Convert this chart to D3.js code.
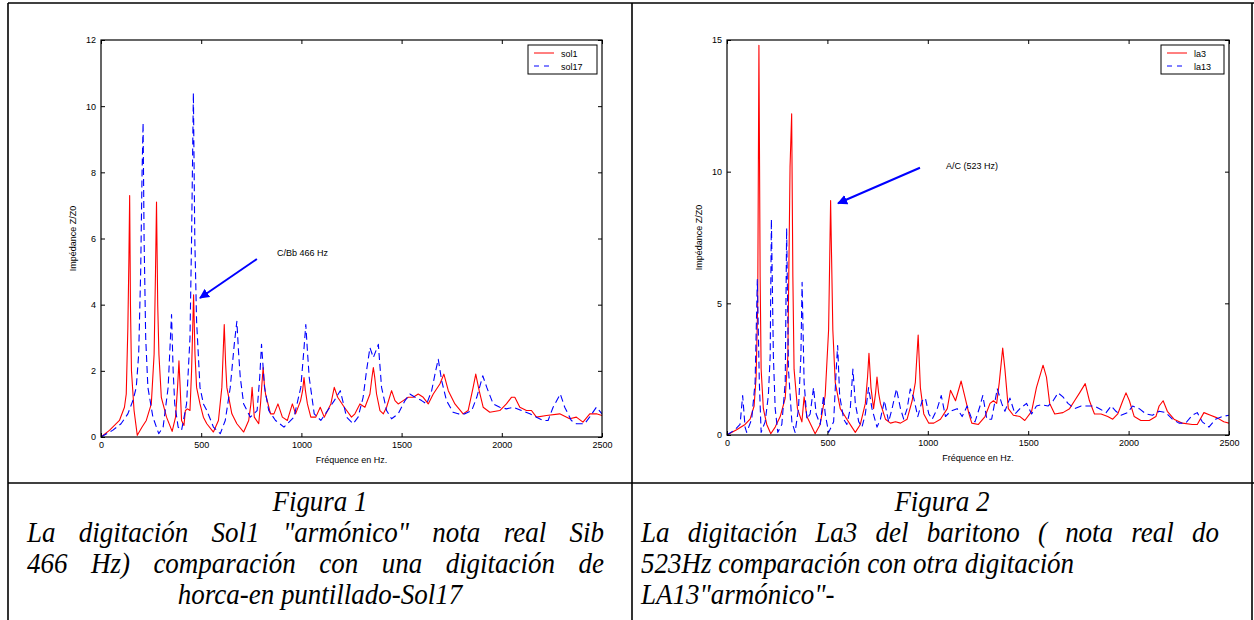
<!DOCTYPE html>
<html>
<head>
<meta charset="utf-8">
<script src="https://cdn.jsdelivr.net/npm/d3@7"></script>
<style>
  html, body { margin: 0; padding: 0; background: #fff; }
  svg { display: block; }
  .tick text { font-family: "Liberation Sans", Arial, sans-serif; font-size: 9px; fill: #000; }
  .lbl { font-family: "Liberation Sans", Arial, sans-serif; font-size: 9px; fill: #000; }
  .cap { font-family: "Liberation Serif", "Times New Roman", serif; font-style: italic; font-size: 30px; fill: #000; }
</style>
</head>
<body>
<div id="chart"></div>
<script>
// values: [frequency Hz, Z/Z0]
const sol1 = [[0,0],[42,0.2],[92,0.5],[117,0.9],[126,1.3],[134,3.3],[139,5.3],[143,7.3],[147,4],[152,2],[165,0.8],[181,0.05],[205,0.3],[226,0.5],[251,1.0],[265,2.5],[272,5],[277,7.1],[283,4],[289,2.5],[301,1.2],[327,0.6],[355,0.17],[372,0.6],[382,1.5],[389,2.3],[395,1.5],[402,0.5],[414,0.35],[421,0.8],[432,0.85],[444,0.8],[452,2],[462,4.3],[469,2.5],[477,1.5],[494,1.0],[511,0.6],[528,0.4],[561,0.15],[586,0.5],[603,1.5],[615,3.4],[622,2.2],[628,1.5],[653,0.7],[678,0.4],[712,0.15],[737,0.5],[748,1.0],[754,1.5],[760,1.0],[765,0.6],[787,0.4],[796,1.0],[803,1.6],[809,2.1],[815,1.6],[821,1.3],[846,0.7],[863,0.7],[883,1.0],[905,0.6],[930,0.5],[955,1.0],[971,0.7],[996,1.1],[1006,1.4],[1013,1.8],[1020,1.4],[1030,1.0],[1047,0.6],[1072,0.6],[1094,0.9],[1114,0.6],[1147,1.0],[1164,1.5],[1181,1.2],[1214,0.9],[1250,0.6],[1267,0.7],[1292,1.0],[1317,0.9],[1342,1.3],[1352,1.8],[1359,2.1],[1366,1.8],[1375,1.3],[1392,0.8],[1409,0.7],[1425,0.9],[1450,1.4],[1467,1.1],[1483,1.0],[1508,1.1],[1533,1.2],[1558,1.2],[1583,1.3],[1608,1.2],[1633,1.0],[1658,1.3],[1691,1.6],[1711,1.9],[1733,1.4],[1766,1.0],[1807,0.7],[1832,0.8],[1857,1.5],[1870,1.9],[1887,1.4],[1907,0.9],[1940,0.75],[1990,0.8],[2023,1.0],[2048,1.2],[2065,1.2],[2090,0.9],[2123,0.8],[2148,0.8],[2173,0.6],[2223,0.65],[2289,0.7],[2339,0.55],[2372,0.6],[2405,0.45],[2439,0.7],[2472,0.7],[2500,0.65]];

const sol17 = [[0,0],[58,0.2],[100,0.4],[134,0.7],[159,1.1],[176,1.5],[188,2.5],[198,5],[205,8],[210,9.5],[215,6],[223,3],[234,1.5],[259,0.6],[288,0.1],[310,0.3],[335,1.5],[345,2.8],[352,3.7],[360,2],[368,1.0],[385,0.3],[402,0.2],[427,1.0],[444,3],[452,6],[461,10.4],[468,6],[477,3.5],[494,1.5],[511,1.0],[528,0.8],[561,0.3],[595,0.1],[620,0.5],[645,1.5],[665,2.8],[678,3.5],[686,2.6],[695,1.8],[712,1.0],[745,0.6],[779,0.8],[792,1.8],[801,2.8],[808,2.2],[816,1.5],[837,0.8],[871,0.5],[913,0.3],[963,0.6],[997,1.5],[1012,2.6],[1022,3.4],[1030,2.6],[1039,1.8],[1064,0.7],[1097,0.5],[1131,0.8],[1164,1.1],[1194,1.4],[1214,0.9],[1225,0.6],[1258,0.4],[1283,0.6],[1308,1.2],[1325,2.0],[1342,2.7],[1359,2.4],[1384,2.8],[1400,1.5],[1425,0.8],[1450,0.55],[1483,0.7],[1517,1.1],[1541,1.3],[1567,1.2],[1600,1.1],[1625,1.0],[1650,1.4],[1670,2.0],[1683,2.35],[1700,1.7],[1724,1.1],[1757,0.75],[1782,0.7],[1816,0.7],[1850,0.8],[1875,1.2],[1905,1.85],[1925,1.5],[1957,1.0],[1990,0.9],[2023,0.85],[2057,0.9],[2098,0.8],[2140,0.7],[2173,0.6],[2206,0.5],[2231,0.5],[2256,0.9],[2292,1.3],[2314,0.9],[2347,0.5],[2372,0.4],[2413,0.4],[2438,0.6],[2472,0.9],[2500,0.7]];

const la3 = [[0,0],[48,0.2],[90,0.4],[115,0.6],[135,1.1],[145,2.2],[153,5],[159,14.8],[165,6],[170,2.5],[181,1.0],[198,0.4],[218,0.05],[240,0.3],[265,0.7],[290,1.4],[303,3],[314,10.2],[322,12.2],[328,6],[334,2.5],[351,1.0],[373,0.5],[384,1.45],[398,0.7],[423,0.3],[439,0.05],[464,0.4],[489,1.5],[506,4],[516,8.9],[527,4],[539,2],[564,1.0],[597,0.6],[622,0.3],[639,0.1],[664,0.4],[689,1.2],[700,2.2],[707,3.1],[717,1.8],[730,1.0],[740,1.6],[747,2.2],[755,1.6],[764,1.2],[789,0.6],[814,0.45],[839,0.5],[864,0.45],[897,0.6],[922,1.3],[938,2],[952,3.8],[963,1.8],[980,0.8],[1005,0.45],[1030,0.45],[1063,0.6],[1097,1.0],[1113,1.7],[1138,1.3],[1166,2.05],[1180,1.6],[1205,0.8],[1219,0.45],[1252,0.4],[1285,0.7],[1310,1.2],[1327,1.3],[1343,1.2],[1356,2],[1373,3.3],[1384,2.5],[1401,1.0],[1426,0.75],[1459,0.7],[1483,0.55],[1517,0.9],[1541,1.8],[1574,2.65],[1591,2.2],[1607,1.2],[1632,0.8],[1673,0.85],[1706,1.0],[1731,1.3],[1756,1.6],[1784,1.95],[1805,1.3],[1830,0.8],[1863,0.8],[1896,0.7],[1921,0.6],[1946,0.8],[1971,1.3],[1987,1.6],[2004,1.3],[2028,0.7],[2061,0.55],[2103,0.55],[2136,0.7],[2152,1.1],[2172,1.3],[2193,0.9],[2226,0.6],[2268,0.45],[2317,0.4],[2342,0.4],[2375,0.85],[2408,0.75],[2441,0.65],[2474,0.5],[2500,0.45]];

const la13 = [[0,0],[40,0.2],[65,0.4],[78,1.5],[90,0.3],[98,0.1],[123,0.6],[140,2],[151,5.9],[161,2],[170,0.1],[190,0.5],[206,1.5],[215,3],[221,8.2],[231,3],[240,1],[253,0.1],[273,0.4],[290,2],[297,7.85],[306,2.5],[323,0.5],[339,0.1],[356,1.0],[368,3],[374,5.8],[384,2],[398,0.6],[414,0.8],[431,1.8],[444,0.8],[464,0.4],[481,1.5],[489,0.8],[506,0.1],[531,0.5],[544,2.5],[551,3.4],[561,1.5],[581,0.6],[597,0.4],[614,1.0],[627,2.5],[639,1.2],[656,0.5],[672,0.3],[689,0.8],[705,1.8],[722,1.0],[747,0.3],[764,0.6],[784,1.3],[805,0.5],[822,1.0],[844,1.75],[864,1.0],[880,0.6],[897,1.0],[913,1.75],[930,1.4],[950,0.7],[972,1.3],[988,1.4],[1005,0.8],[1022,0.6],[1047,1.0],[1067,1.5],[1088,0.7],[1113,0.9],[1146,1.0],[1171,0.7],[1196,1.1],[1219,0.6],[1235,0.5],[1260,1.1],[1274,1.5],[1294,0.6],[1318,0.6],[1346,1.75],[1368,1.2],[1384,0.9],[1409,1.4],[1434,0.8],[1459,1.0],[1492,1.2],[1517,0.8],[1541,1.1],[1566,1.15],[1599,1.1],[1624,1.3],[1649,1.6],[1673,1.45],[1698,1.2],[1731,1.0],[1764,1.1],[1797,1.1],[1830,1.1],[1855,1.0],[1888,0.85],[1913,1.1],[1937,0.9],[1962,0.75],[1995,0.85],[2020,1.1],[2053,1.0],[2086,0.8],[2119,0.75],[2152,0.9],[2185,0.85],[2218,0.6],[2251,0.45],[2284,0.45],[2317,0.75],[2342,0.85],[2367,0.5],[2400,0.3],[2433,0.6],[2466,0.7],[2500,0.75]];

const xTicks = [0, 500, 1000, 1500, 2000, 2500];
const yTicks1 = [0, 2, 4, 6, 8, 10, 12];
const yTicks2 = [0, 5, 10, 15];

// annotation: text position, arrow tail and arrow tip, in [f, Z/Z0]
const note1 = { text: 'C/Bb 466 Hz', at: [878, 5.56], from: [778, 5.38], to: [494, 4.2] };
const note2 = { text: 'A/C (523 Hz)', at: [1091, 10.2], from: [961, 10.15], to: [553, 8.8] };

const caption1 = ['Figura 1', 'La digitación Sol1 "armónico" nota real Sib', '466 Hz) comparación con una digitación de', 'horca-en puntillado-Sol17'];
const caption2 = ['Figura 2', 'La digitación La3 del baritono ( nota real do', '523Hz comparación con otra digitación', 'LA13"armónico"-'];

const W = 1254, H = 620;
const svg = d3.select('#chart').append('svg').attr('width', W).attr('height', H);
svg.append('rect').attr('width', W).attr('height', H).attr('fill', '#fff');

const defs = svg.append('defs');
defs.append('marker')
  .attr('id', 'arrowHead')
  .attr('viewBox', '0 0 10 10')
  .attr('refX', 9).attr('refY', 5)
  .attr('markerWidth', 5).attr('markerHeight', 5)
  .attr('markerUnits', 'strokeWidth')
  .attr('orient', 'auto')
  .append('path').attr('d', 'M0,0 L10,5 L0,10 Z').attr('fill', '#0000ff');

// table borders
const border = svg.append('g').attr('stroke', '#000').attr('stroke-width', 1.6);
border.append('line').attr('x1', 8).attr('x2', W).attr('y1', 3).attr('y2', 3);
border.append('line').attr('x1', 8).attr('x2', 8).attr('y1', 3).attr('y2', H);
border.append('line').attr('x1', 632).attr('x2', 632).attr('y1', 3).attr('y2', H);
border.append('line').attr('x1', 1252).attr('x2', 1252).attr('y1', 3).attr('y2', H);
border.append('line').attr('x1', 8).attr('x2', W).attr('y1', 483).attr('y2', 483);

// one impedance panel
function drawPanel(cfg) {
  const x = d3.scaleLinear().domain([0, 2500]).range([cfg.left, cfg.right]);
  const y = d3.scaleLinear().domain([0, cfg.yMax]).range([cfg.bottom, cfg.top]);
  const g = svg.append('g');
  const clipId = 'clip' + cfg.id;
  defs.append('clipPath').attr('id', clipId)
    .append('rect').attr('x', cfg.left).attr('y', cfg.top)
    .attr('width', cfg.right - cfg.left).attr('height', cfg.bottom - cfg.top);

  const line = d3.line().x(d => x(d[0])).y(d => y(d[1]));
  const plot = g.append('g').attr('clip-path', `url(#${clipId})`);
  cfg.series.forEach(s => {
    plot.append('path')
      .datum(s.data)
      .attr('fill', 'none')
      .attr('stroke', s.color)
      .attr('stroke-width', 1.1)
      .attr('stroke-linejoin', 'round')
      .attr('stroke-dasharray', s.dash || null)
      .attr('d', line);
  });

  // axes with inward ticks
  const fmt = d3.format('d');
  g.append('g').attr('transform', `translate(0,${cfg.bottom})`)
    .call(d3.axisBottom(x).tickValues(xTicks).tickFormat(fmt).tickSize(-4).tickPadding(5));
  g.append('g').attr('transform', `translate(0,${cfg.top})`)
    .call(d3.axisTop(x).tickValues(xTicks).tickSize(-4).tickFormat(''));
  g.append('g').attr('transform', `translate(${cfg.left},0)`)
    .call(d3.axisLeft(y).tickValues(cfg.yTicks).tickFormat(fmt).tickSize(-4).tickPadding(5));
  g.append('g').attr('transform', `translate(${cfg.right},0)`)
    .call(d3.axisRight(y).tickValues(cfg.yTicks).tickSize(-4).tickFormat(''));
  g.selectAll('.domain').remove();
  g.selectAll('.tick line').attr('stroke', '#000');
  g.append('rect')
    .attr('x', cfg.left).attr('y', cfg.top)
    .attr('width', cfg.right - cfg.left).attr('height', cfg.bottom - cfg.top)
    .attr('fill', 'none').attr('stroke', '#000').attr('stroke-width', 1.2);

  // axis titles
  g.append('text').attr('class', 'lbl')
    .attr('x', (cfg.left + cfg.right) / 2).attr('y', cfg.bottom + 26)
    .attr('text-anchor', 'middle').text('Fréquence en Hz.');
  g.append('text').attr('class', 'lbl')
    .attr('transform', `translate(${cfg.left - 25},${(cfg.top + cfg.bottom) / 2}) rotate(-90)`)
    .attr('text-anchor', 'middle').text('Impédance Z/Z0');

  // legend
  const lg = g.append('g').attr('transform', `translate(${cfg.legend[0]},${cfg.legend[1]})`);
  lg.append('rect').attr('width', cfg.legend[2]).attr('height', 29)
    .attr('fill', '#fff').attr('stroke', '#000').attr('stroke-width', 1);
  cfg.series.forEach((s, i) => {
    const yy = 8 + i * 13;
    lg.append('line').attr('x1', 6).attr('x2', 26).attr('y1', yy).attr('y2', yy)
      .attr('stroke', s.color).attr('stroke-width', 1)
      .attr('stroke-dasharray', s.dash ? '5,5' : null);
    lg.append('text').attr('class', 'lbl').attr('x', 33).attr('y', yy + 3.5).text(s.name);
  });

  // annotation
  const n = cfg.note;
  g.append('line')
    .attr('x1', x(n.from[0])).attr('y1', y(n.from[1]))
    .attr('x2', x(n.to[0])).attr('y2', y(n.to[1]))
    .attr('stroke', '#0000ff').attr('stroke-width', 2)
    .attr('marker-end', 'url(#arrowHead)');
  g.append('text').attr('class', 'lbl')
    .attr('x', x(n.at[0])).attr('y', y(n.at[1]) + 3)
    .text(n.text);
}

drawPanel({
  id: 1, left: 101, right: 602, top: 40, bottom: 437, yMax: 12, yTicks: yTicks1,
  legend: [528, 45, 69],
  series: [
    { name: 'sol1', data: sol1, color: '#ff0000' },
    { name: 'sol17', data: sol17, color: '#0000ff', dash: '7,4' }
  ],
  note: note1
});

drawPanel({
  id: 2, left: 727, right: 1229, top: 40, bottom: 435, yMax: 15, yTicks: yTicks2,
  legend: [1161, 45, 63],
  series: [
    { name: 'la3', data: la3, color: '#ff0000' },
    { name: 'la13', data: la13, color: '#0000ff', dash: '7,4' }
  ],
  note: note2
});

// caption text is a little condensed in the scan
const squeeze = 0.9;

// caption line: centred, left, or justified word by word across [x0, x1]
function captionLine(t, y, mode, x0, x1) {
  const el = svg.append('text').attr('class', 'cap')
    .attr('transform', `translate(0,${y}) scale(${squeeze},1)`);
  if (mode === 'center') {
    el.attr('x', (x0 + x1) / 2 / squeeze).attr('text-anchor', 'middle').text(t);
  } else if (mode === 'left') {
    el.attr('x', x0 / squeeze).text(t);
  } else {
    const words = t.split(' ');
    const spans = words.map(w => el.append('tspan').text(w));
    const widths = spans.map(s => s.node().getComputedTextLength());
    const gap = ((x1 - x0) / squeeze - d3.sum(widths)) / (words.length - 1);
    let cx = x0 / squeeze;
    spans.forEach((s, i) => { s.attr('x', cx); cx += widths[i] + gap; });
  }
}

const capY = 511, capStep = 31;
captionLine(caption1[0], capY, 'center', 8, 632);
captionLine(caption1[1], capY + capStep, 'justify', 27, 604);
captionLine(caption1[2], capY + 2 * capStep, 'justify', 27, 604);
captionLine(caption1[3], capY + 3 * capStep, 'center', 8, 632);
captionLine(caption2[0], capY, 'center', 632, 1252);
captionLine(caption2[1], capY + capStep, 'justify', 641, 1219);
captionLine(caption2[2], capY + 2 * capStep, 'left', 641, 1219);
captionLine(caption2[3], capY + 3 * capStep, 'left', 641, 1219);
</script>
</body>
</html>
